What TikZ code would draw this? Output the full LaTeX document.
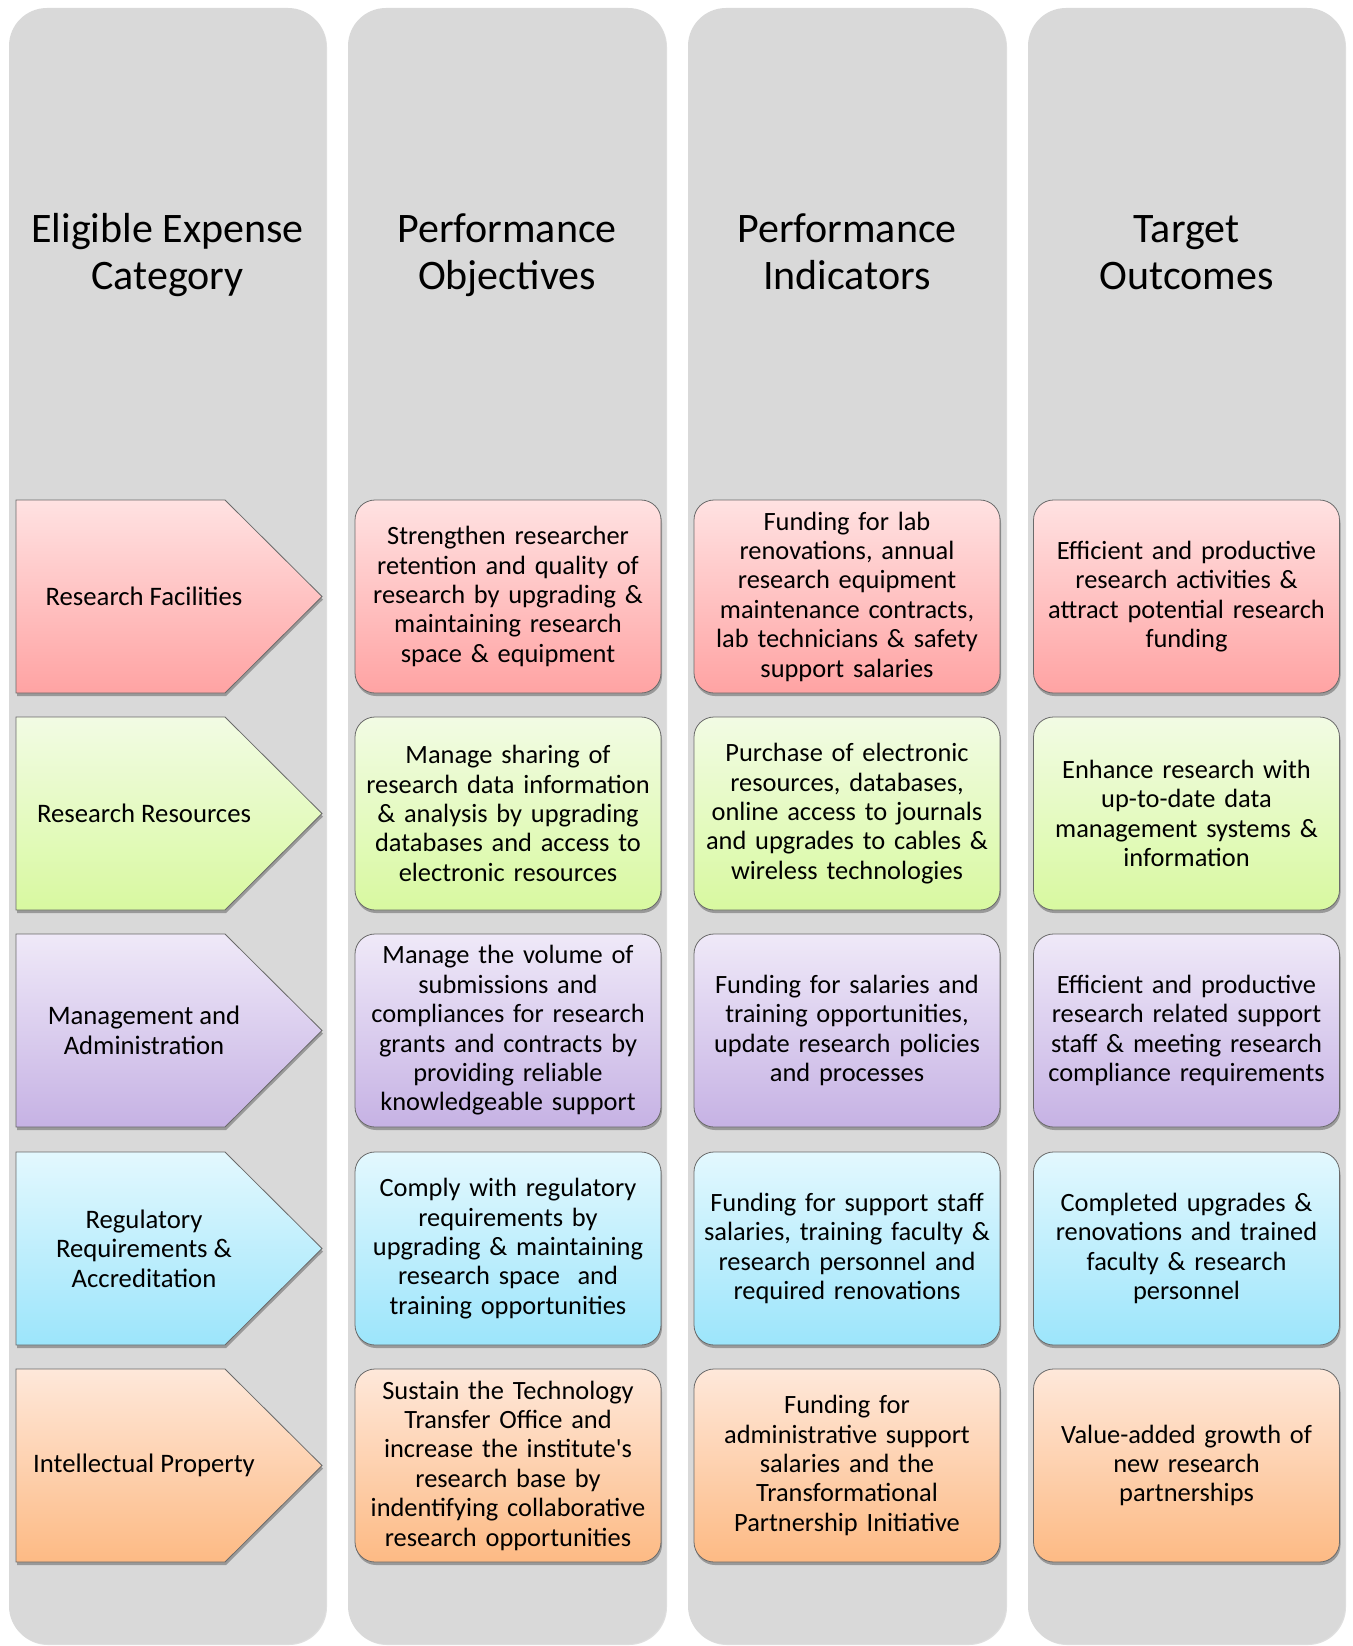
\documentclass[tikz,border=0pt]{standalone}
\usepackage{fontspec}
\setmainfont{Carlito}[Ligatures=TeXOff]
\usetikzlibrary{shadows}
\definecolor{colbg}{HTML}{D9D9D9}
\definecolor{edgegray}{HTML}{6A6A6A}
\definecolor{pinkT}{HTML}{FFE2E2}
\definecolor{pinkB}{HTML}{FFA3A3}
\definecolor{greenT}{HTML}{F2FBE4}
\definecolor{greenB}{HTML}{D8F9A0}
\definecolor{purpT}{HTML}{EFE9F8}
\definecolor{purpB}{HTML}{C6B2E4}
\definecolor{cyanT}{HTML}{E3F8FE}
\definecolor{cyanB}{HTML}{9CE5FB}
\definecolor{orT}{HTML}{FEE8DA}
\definecolor{orB}{HTML}{FDBA84}
\tikzset{
  colpanel/.style={fill=colbg, rounded corners=38pt,
    drop shadow={shadow xshift=1pt, shadow yshift=-1pt, opacity=0.25, fill=black!50}},
  titletext/.style={font=\fontsize{42}{47}\selectfont, align=center, text=black, inner sep=0pt},
  bodybox/.style={draw=edgegray, line width=0.8pt, rounded corners=20pt,
    minimum width=306pt, minimum height=193pt, text width=298pt, align=center,
    inner sep=0pt, font=\fontsize{26.4}{29.4}\selectfont,
    drop shadow={shadow xshift=1pt, shadow yshift=-3pt, opacity=0.45, fill=black!70}},
  arrowshape/.style={draw=edgegray, line width=0.8pt,
    drop shadow={shadow xshift=1pt, shadow yshift=-3pt, opacity=0.45, fill=black!70}},
  labeltext/.style={align=center, inner sep=0pt, font=\fontsize{26.7}{29.4}\selectfont},
}
\begin{document}
\begin{tikzpicture}[x=1pt,y=-1pt]
\useasboundingbox (0,0) rectangle (1352,1646);
\fill[white] (0,0) rectangle (1352,1646);
% column panels
\path[colpanel] (9,8) rectangle (326,1644);
\path[colpanel] (348,8) rectangle (666,1644);
\path[colpanel] (688,8) rectangle (1006,1644);
\path[colpanel] (1028,8) rectangle (1345,1644);
% titles
\node[titletext] (t1) at (167.5,256.5) {\strut Eligible Expense\\Category\strut};
\node[titletext] (t2) at (507,256.5) {\strut Performance\\Objectives\strut};
\node[titletext] (t3) at (847,256.5) {\strut Performance\\Indicators\strut};
\node[titletext] (t4) at (1186.5,256.5) {\strut Target\\Outcomes\strut};
% row 1
\path[arrowshape, top color=pinkT, bottom color=pinkB] (16,500) -- (225,500) -- (322,596.5) -- (225,693) -- (16,693) -- cycle;
\node[labeltext] (a1) at (144,596.5) {Research Facilities};
\node[bodybox, top color=pinkT, bottom color=pinkB] (o1) at (508,596.5) {Strengthen researcher\\retention and quality of\\research by upgrading \&\\maintaining research\\space \& equipment};
\node[bodybox, top color=pinkT, bottom color=pinkB] (i1) at (847,596.5) {Funding for lab\\renovations, annual\\research equipment\\maintenance contracts,\\lab technicians \& safety\\support salaries};
\node[bodybox, top color=pinkT, bottom color=pinkB] (g1) at (1186.5,596.5) {Efficient and productive\\research activities \&\\attract potential research\\funding};
% row 2
\path[arrowshape, top color=greenT, bottom color=greenB] (16,717) -- (225,717) -- (322,813.5) -- (225,910) -- (16,910) -- cycle;
\node[labeltext] (a2) at (144,813.5) {Research Resources};
\node[bodybox, top color=greenT, bottom color=greenB] (o2) at (508,813.5) {Manage sharing of\\research data information\\\& analysis by upgrading\\databases and access to\\electronic resources};
\node[bodybox, top color=greenT, bottom color=greenB] (i2) at (847,813.5) {Purchase of electronic\\resources, databases,\\online access to journals\\and upgrades to cables \&\\wireless technologies};
\node[bodybox, top color=greenT, bottom color=greenB] (g2) at (1186.5,813.5) {Enhance research with\\up-to-date data\\management systems \&\\information};
% row 3
\path[arrowshape, top color=purpT, bottom color=purpB] (16,934) -- (225,934) -- (322,1030.5) -- (225,1127) -- (16,1127) -- cycle;
\node[labeltext] (a3) at (144,1030.5) {Management and\\Administration};
\node[bodybox, top color=purpT, bottom color=purpB] (o3) at (508,1030.5) {Manage the volume of\\submissions and\\compliances for research\\grants and contracts by\\providing reliable\\knowledgeable support};
\node[bodybox, top color=purpT, bottom color=purpB] (i3) at (847,1030.5) {Funding for salaries and\\training opportunities,\\update research policies\\and processes};
\node[bodybox, top color=purpT, bottom color=purpB] (g3) at (1186.5,1030.5) {Efficient and productive\\research related support\\staff \& meeting research\\compliance requirements};
% row 4
\path[arrowshape, top color=cyanT, bottom color=cyanB] (16,1152) -- (225,1152) -- (322,1248.5) -- (225,1345) -- (16,1345) -- cycle;
\node[labeltext] (a4) at (144,1248.5) {Regulatory\\Requirements \&\\Accreditation};
\node[bodybox, top color=cyanT, bottom color=cyanB] (o4) at (508,1248.5) {Comply with regulatory\\requirements by\\upgrading \& maintaining\\research space~ and\\training opportunities};
\node[bodybox, top color=cyanT, bottom color=cyanB] (i4) at (847,1248.5) {Funding for support staff\\salaries, training faculty \&\\research personnel and\\required renovations};
\node[bodybox, top color=cyanT, bottom color=cyanB] (g4) at (1186.5,1248.5) {Completed upgrades \&\\renovations and trained\\faculty \& research\\personnel};
% row 5
\path[arrowshape, top color=orT, bottom color=orB] (16,1369) -- (225,1369) -- (322,1465.5) -- (225,1562) -- (16,1562) -- cycle;
\node[labeltext] (a5) at (144,1465.5) {Intellectual Property};
\node[bodybox, top color=orT, bottom color=orB] (o5) at (508,1465.5) {Sustain the Technology\\Transfer Office and\\increase the institute's\\research base by\\indentifying collaborative\\research opportunities};
\node[bodybox, top color=orT, bottom color=orB] (i5) at (847,1465.5) {Funding for\\administrative support\\salaries and the\\Transformational\\Partnership Initiative};
\node[bodybox, top color=orT, bottom color=orB] (g5) at (1186.5,1465.5) {Value-added growth of\\new research\\partnerships};
\end{tikzpicture}
\end{document}
